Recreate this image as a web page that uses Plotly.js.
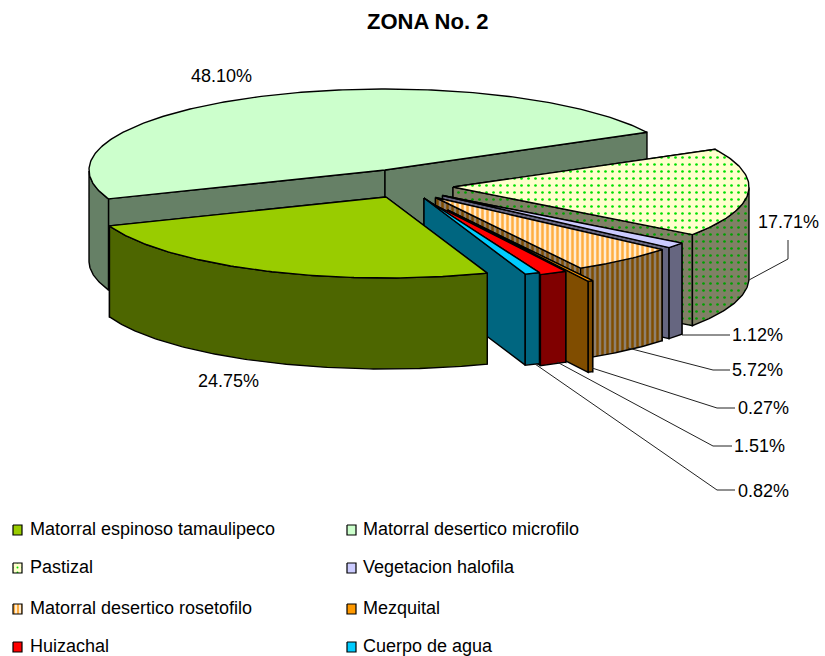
<!DOCTYPE html>
<html>
<head>
<meta charset="utf-8">
<script src="https://cdn.plot.ly/plotly-3.0.1.min.js"></script>
<style>html,body{margin:0;padding:0;background:#fff}</style>
</head>
<body>
<div id="chart" style="width:825px;height:656px"></div>
<script>
// ---- data ----
const categories = ["Matorral espinoso tamaulipeco","Matorral desertico microfilo","Pastizal","Vegetacion halofila","Matorral desertico rosetofilo","Mezquital","Huizachal","Cuerpo de agua"];
const values = [24.75,48.10,17.71,1.12,5.72,0.27,1.51,0.82];
const chartTitle = "ZONA No. 2";

// ---- styling and layout constants ----
const topColors  = ["#99CC00","#CCFFCC","#FFFFCC","#CCCCFF","#FFCC99","#FF9900","#FF0000","#00CCFF"];
const wallColors = ["#4D6600","#668066","#808066","#666680","#808080","#804D00","#800000","#006680"];
const topPatterns  = {2:{shape:".",fgcolor:"#00E000",bgcolor:"#FFFFCC",size:7,solidity:0.12},
                      4:{shape:"|",fgcolor:"#FFAE40",bgcolor:"#FFEBD0",size:5,solidity:0.5}};
const wallPatterns = {2:{shape:".",fgcolor:"#00A000",bgcolor:"#808066",size:7,solidity:0.12},
                      4:{shape:"|",fgcolor:"#804D00",bgcolor:"#8E8070",size:5,solidity:0.5}};
const apexX = [386,385,453,442.5,435.5,447.5,425,424];
const apexY = [197,170,187,195.5,197.5,210,200,198];
const drawOrder = [1,2,3,4,5,6,7,0];
const RX = 296, RY = 81, DEPTH = 91, START = -70;

const labelX = [228,221,788,757,757,763,759,763];
const labelY = [381,76,222,335,370,408,446,491];
const leaders = [null,null,
  [[749,280],[788,259],[788,240]],
  [[682,335],[730,335]],
  [[628,348],[713,370],[730,370]],
  [[592,368],[717,408],[735,408]],
  [[557,362],[713,446],[732,446]],
  [[535,364],[717,490],[735,490]]];
const legendX = [13,347], legendTextX = [28,361], legendRowY = [529,567,608,646];
const FONT = "Liberation Sans, Arial, sans-serif";

// ---- slice geometry through the values ----
const traces = [];
function poly(pts, color, pattern, lw){
  const t = {type:"scatter",mode:"lines",x:pts.map(p=>p[0]),y:pts.map(p=>p[1]),
    fill:"toself",fillcolor:color,line:{color:"#000",width:lw===undefined?1.4:lw},hoverinfo:"skip",showlegend:false};
  if(pattern) t.fillpattern = pattern;
  traces.push(t);
}
const rad = d=>d*Math.PI/180;
const total = values.reduce((a,b)=>a+b,0);
const starts = []; let acc = START;
values.forEach(v=>{starts.push(acc); acc -= v/total*360;});

drawOrder.forEach(i=>{
  const a0 = starts[i], a1 = a0 - values[i]/total*360;
  const ax = apexX[i], ay = apexY[i];
  const rim = a=>[ax+RX*Math.cos(rad(a)), ay-RY*Math.sin(rad(a))];
  const arc = []; const n = Math.max(4,Math.ceil((a0-a1)/0.75));
  for(let k=0;k<=n;k++) arc.push(a0+(a1-a0)*k/n);
  const down = p=>[p[0],p[1]+DEPTH];
  const apex = [ax,ay];
  [a0,a1].forEach(a=>{
    const r = rim(a);
    poly([apex,r,down(r),down(apex),apex],wallColors[i],wallPatterns[i]);
  });
  const front = arc.filter(a=>Math.sin(rad(a))<=0.0001).map(rim);
  if(front.length>1){
    poly(front.concat(front.slice().reverse().map(down)).concat([front[0]]),wallColors[i],wallPatterns[i]);
  }
  poly([apex].concat(arc.map(rim)).concat([apex]),topColors[i],topPatterns[i]);
});

// ---- legend swatches ----
categories.forEach((c,i)=>{
  const x = legendX[i%2], y = legendRowY[Math.floor(i/2)]+1;
  poly([[x,y-5],[x+9,y-5],[x+9,y+5],[x,y+5],[x,y-5]],topColors[i],
    topPatterns[i]?Object.assign({},topPatterns[i],{size:i===2?5:4}):null,1.2);
});

// ---- text ----
const annotations = [];
function txt(x,y,text,size,anchor,bold){
  annotations.push({xref:"x",yref:"y",x:x,y:y,text:bold?"<b>"+text+"</b>":text,showarrow:false,xanchor:anchor,yanchor:"middle",
    font:{family:FONT,size:size,color:"#000"}});
}
txt(427,21,chartTitle,22,"center",true);
values.forEach((v,i)=>txt(labelX[i],labelY[i],v.toFixed(2)+"%",18,"center"));
categories.forEach((c,i)=>txt(legendTextX[i%2],legendRowY[Math.floor(i/2)],c,18,"left"));

const shapes = leaders.filter(Boolean).map(l=>({type:"path",xref:"x",yref:"y",
  path:"M"+l.map(p=>p.join(",")).join("L"),line:{color:"#222",width:1}}));

Plotly.newPlot("chart",traces,{
  width:825,height:656,margin:{l:0,r:0,t:0,b:0},
  paper_bgcolor:"#fff",plot_bgcolor:"#fff",showlegend:false,
  xaxis:{range:[0,825],visible:false,fixedrange:true},
  yaxis:{range:[656,0],visible:false,fixedrange:true},
  annotations:annotations,shapes:shapes
},{displayModeBar:false,staticPlot:true});
</script>
</body>
</html>
